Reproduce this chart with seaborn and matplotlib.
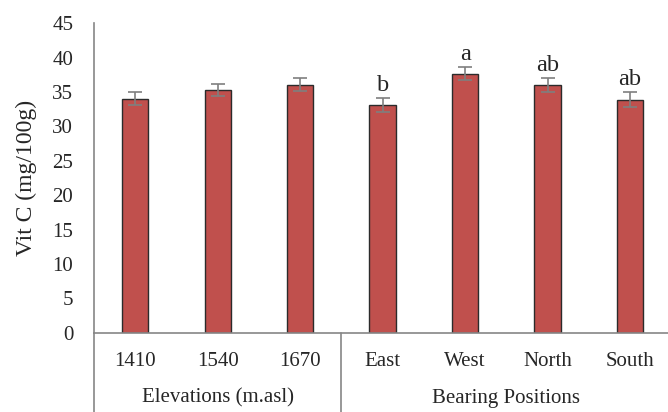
import pandas as pd
import numpy as np
import matplotlib
matplotlib.use('Agg')
import matplotlib.pyplot as plt
import matplotlib.transforms as mtrans
import seaborn as sns

# dados
categorias = ['1410', '1540', '1670', 'East', 'West', 'North', 'South']
vit_c = [34.0, 35.3, 36.1, 33.1, 37.7, 36.0, 33.9]
erro = [0.95, 0.9, 0.9, 1.05, 1.0, 1.0, 1.05]
letras = ['', '', '', 'b', 'a', 'ab', 'ab']
grupos = ['Elevations (m.asl)', 'Bearing Positions']
tamanho_grupo = [3, 4]

df = pd.DataFrame({'cat': categorias, 'vitc': vit_c, 'err': erro, 'letra': letras})

sns.set_style('white')
plt.rcParams['font.family'] = ['Liberation Serif', 'DejaVu Serif']
fs = 15

fig = plt.figure(figsize=(6.68, 4.12), dpi=100)
ax = fig.add_axes([94 / 668, 0.1925, 1 - 94 / 668, 0.7509])

sns.barplot(data=df, x='cat', y='vitc', order=categorias, color='#C0504D',
            edgecolor='#2b2b2b', linewidth=1.0, width=0.32, saturation=1, ax=ax)

xs = np.arange(len(categorias))
ax.errorbar(xs, df['vitc'], yerr=df['err'], fmt='none', ecolor='#7f7f7f',
            elinewidth=1.2, capsize=5, capthick=1.2)

for x, v, e, l in zip(xs, df['vitc'], df['err'], df['letra']):
    if l:
        ax.text(x, v + e + 0.3, l, ha='center', va='bottom', fontsize=17.5)

ax.set_ylim(0, 45)
ax.set_xlim(-0.5, 6.46)
ax.set_yticks(range(0, 46, 5))
ax.tick_params(axis='both', length=0, labelsize=fs)
ax.tick_params(axis='y', pad=15)
ax.tick_params(axis='x', pad=14)
ax.set_xlabel('')
ax.set_ylabel('Vit C (mg/100g)', fontsize=17, labelpad=11)

for s in ['top', 'right']:
    ax.spines[s].set_visible(False)
for s in ['left', 'bottom']:
    ax.spines[s].set_color('#868686')
    ax.spines[s].set_linewidth(1.2)

# linhas separadoras e nomes dos grupos
trans = mtrans.blended_transform_factory(ax.transData, ax.transAxes)
inicio = -0.5
for nome, n in zip(grupos, tamanho_grupo):
    ax.plot([inicio, inicio], [0, -0.26], transform=trans, color='#868686',
            lw=1.2, clip_on=False)
    ax.text(inicio + n / 2, -0.212, nome, transform=trans, ha='center',
            va='center', fontsize=fs)
    inicio += n

fig.savefig('out.png', dpi=100)
